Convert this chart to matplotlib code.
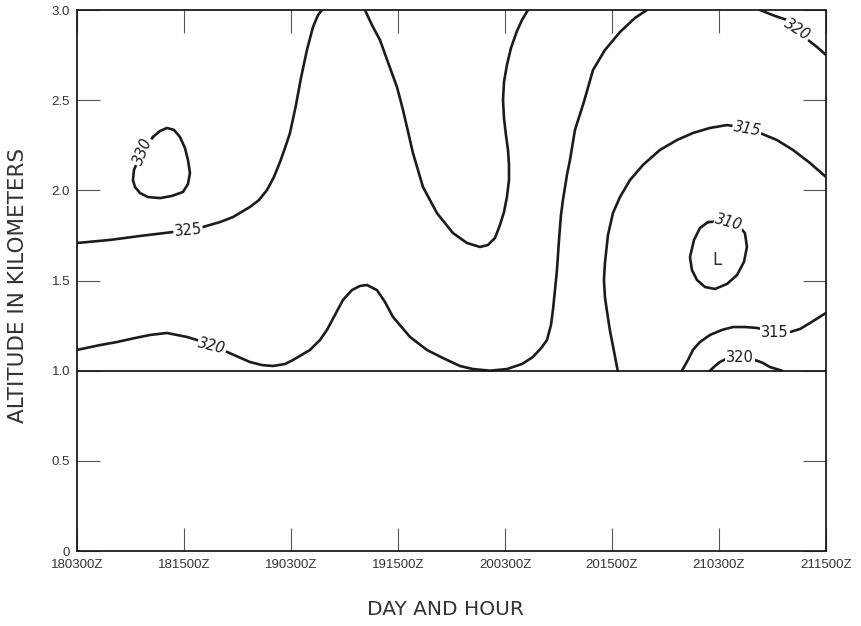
import matplotlib
matplotlib.use("Agg")
import matplotlib.pyplot as plt
from matplotlib import font_manager

# -------------------------
# eixos: horas desde 180300Z, altitude em km
# -------------------------
x_ticks = [0, 12, 24, 36, 48, 60, 72, 84]
x_labels = ["180300Z", "181500Z", "190300Z", "191500Z",
            "200300Z", "201500Z", "210300Z", "211500Z"]
y_ticks = [0, 0.5, 1.0, 1.5, 2.0, 2.5, 3.0]
y_labels = ["0", "0.5", "1.0", "1.5", "2.0", "2.5", "3.0"]

# -------------------------
# isolinhas (hora, km)
# -------------------------
h330 = [8.52, 9.31, 10.09, 10.88, 11.55, 12.11, 12.45, 12.67, 12.45, 11.89,
        10.65, 9.31, 7.96, 7.07, 6.50, 6.28, 6.39, 6.73, 8.52]
z330 = [2.296, 2.329, 2.346, 2.335, 2.296, 2.235, 2.168, 2.096, 2.035, 1.991,
        1.969, 1.957, 1.963, 1.985, 2.019, 2.057, 2.113, 2.152, 2.296]

h325a = [0, 3.70, 7.07, 10.77, 14.13, 16.04, 17.50, 19.40, 20.41, 21.31,
         22.09, 22.77, 23.33, 23.89, 24.56, 25.12, 25.79, 26.47, 27.03, 27.48]
z325a = [1.708, 1.725, 1.747, 1.769, 1.797, 1.824, 1.852, 1.908, 1.946, 2.002,
         2.074, 2.157, 2.235, 2.318, 2.473, 2.623, 2.778, 2.906, 2.972, 3.0]

h325b = [32.30, 33.08, 33.98, 34.99, 35.89, 36.56, 37.01, 37.68, 38.80, 40.37,
         42.17, 43.74, 45.20, 46.09, 46.88, 47.44, 47.89, 48.22, 48.45, 48.45,
         48.34, 48.11, 47.89, 47.78, 47.89, 48.22, 48.67, 49.35, 49.91, 50.58]
z325b = [3.0, 2.917, 2.834, 2.695, 2.573, 2.446, 2.351, 2.207, 2.019, 1.874,
         1.763, 1.708, 1.686, 1.697, 1.736, 1.808, 1.880, 1.963, 2.057, 2.141,
         2.224, 2.307, 2.401, 2.501, 2.601, 2.695, 2.789, 2.884, 2.945, 3.0]

h320a = [0, 2.58, 4.49, 6.50, 8.19, 10.09, 12.34, 13.46, 15.14, 16.82, 19.40,
         20.75, 21.98, 23.33, 24.22, 26.13, 27.25, 28.04, 28.93, 29.83, 30.84,
         31.74, 32.52, 33.64, 34.54, 35.44, 37.35, 39.25, 41.05, 42.95, 44.41,
         46.32, 48.22, 49.91, 51.14, 52.15, 52.71, 53.16, 53.38, 53.61, 53.83,
         54.06, 54.28, 54.50, 54.95, 55.29, 55.85, 56.85, 57.87, 59.21, 60.90,
         62.58, 63.92]
z320a = [1.115, 1.142, 1.159, 1.181, 1.198, 1.209, 1.187, 1.170, 1.137, 1.104,
         1.048, 1.031, 1.026, 1.037, 1.059, 1.115, 1.170, 1.226, 1.309, 1.392,
         1.447, 1.470, 1.475, 1.447, 1.381, 1.298, 1.187, 1.115, 1.070, 1.026,
         1.009, 1.0, 1.009, 1.037, 1.076, 1.131, 1.170, 1.253, 1.336, 1.447,
         1.558, 1.725, 1.863, 1.946, 2.085, 2.168, 2.335, 2.490, 2.667, 2.778,
         2.878, 2.956, 3.0]

h315a = [60.64, 60.20, 59.76, 59.42, 59.21, 59.10, 59.21, 59.55, 60.11, 60.90,
         62.02, 63.48, 65.38, 67.29, 69.08, 70.99, 72.89, 75.14, 76.60, 78.50,
         80.30, 82.20, 84.0]
z315a = [1.0, 1.115, 1.226, 1.336, 1.409, 1.503, 1.597, 1.752, 1.874, 1.963,
         2.057, 2.141, 2.224, 2.279, 2.318, 2.346, 2.362, 2.346, 2.318, 2.279,
         2.224, 2.152, 2.074]

h310 = [70.77, 69.87, 69.20, 68.75, 68.97, 69.53, 70.43, 71.55, 72.90, 74.02,
        74.80, 75.14, 74.91, 74.13, 73.01, 70.77]
z310 = [1.824, 1.791, 1.725, 1.630, 1.558, 1.503, 1.464, 1.453, 1.481, 1.530,
        1.603, 1.686, 1.763, 1.808, 1.830, 1.824]

h315b = [67.85, 68.52, 69.08, 69.87, 70.99, 72.34, 73.57, 74.91, 76.26, 78.28,
         79.96, 81.08, 82.20, 83.10, 84.0]
z315b = [1.0, 1.059, 1.115, 1.159, 1.198, 1.226, 1.242, 1.242, 1.237, 1.214,
         1.214, 1.231, 1.264, 1.292, 1.320]

h320b = [70.99, 71.55, 72.11, 73.23, 74.35, 76.03, 76.93, 77.72, 79.06]
z320b = [1.0, 1.026, 1.048, 1.076, 1.076, 1.059, 1.043, 1.020, 1.0]

h320c = [76.60, 78.28, 79.62, 80.86, 81.98, 82.99, 84.0]
z320c = [3.0, 2.967, 2.945, 2.889, 2.834, 2.795, 2.751]

# rótulos: texto, hora, km, rotação, itálico
rotulos = [
    ("330", 7.40, 2.213, 68, True),
    ("325", 12.45, 1.780, 5, False),
    ("320", 15.14, 1.137, -14, True),
    ("315", 75.14, 2.340, -10, True),
    ("310", 73.10, 1.822, -15, True),
    ("315", 78.28, 1.214, 0, False),
    ("320", 74.35, 1.072, 0, False),
    ("320", 80.75, 2.889, -32, True),
]

linhas = [(h330, z330), (h325a, z325a), (h325b, z325b), (h320a, z320a),
          (h315a, z315a), (h310, z310), (h315b, z315b), (h320b, z320b),
          (h320c, z320c)]

# fonte estreita para os rótulos dos ticks, se existir
nomes = {f.name for f in font_manager.fontManager.ttflist}
if "Liberation Sans Narrow" in nomes:
    fam_tick, tam_tick = "Liberation Sans Narrow", 10.5
else:
    fam_tick, tam_tick = "Liberation Sans", 9.5

# =========================
# Plot
# =========================
cor = "#1c1c1c"
fig = plt.figure(figsize=(8.62, 6.26), dpi=100)
ax = fig.add_axes([0.0893, 0.1198, 0.8689, 0.8642])

for hh, zz in linhas:
    ax.plot(hh, zz, color=cor, linewidth=1.9, solid_capstyle="round",
            solid_joinstyle="round", zorder=3)

ax.axhline(1.0, color=cor, linewidth=1.3, zorder=2)

for txt, hh, zz, rot, it in rotulos:
    ax.text(hh, zz, txt, fontsize=10.5, color=cor, rotation=rot,
            style="italic" if it else "normal",
            ha="center", va="center", rotation_mode="anchor", zorder=4,
            bbox=dict(facecolor="white", edgecolor="none", pad=0.6))

ax.text(71.77, 1.614, "L", fontsize=12, color="#333333",
        ha="center", va="center")

ax.set_xlim(0, 84)
ax.set_ylim(0, 3.0)
ax.set_xticks(x_ticks)
ax.set_xticklabels(x_labels)
ax.set_yticks(y_ticks)
ax.set_yticklabels(y_labels)

for lab in ax.get_xticklabels() + ax.get_yticklabels():
    lab.set_family(fam_tick)
    lab.set_fontsize(tam_tick)
    lab.set_color("#333333")

ax.tick_params(axis="both", direction="in", length=16.5, width=0.8,
               color="#555555", top=True, right=True)
ax.tick_params(axis="x", pad=6)
ax.tick_params(axis="y", pad=5)

for s in ax.spines.values():
    s.set_linewidth(1.3)
    s.set_color(cor)

fig.text(0.0205, 0.544, "ALTITUDE IN KILOMETERS", rotation=90, fontsize=15.5,
         color="#333333", ha="center", va="center")
fig.text(0.517, 0.026, "DAY AND HOUR", fontsize=14.5, color="#333333",
         ha="center", va="center")

fig.savefig("out.png", dpi=100)
